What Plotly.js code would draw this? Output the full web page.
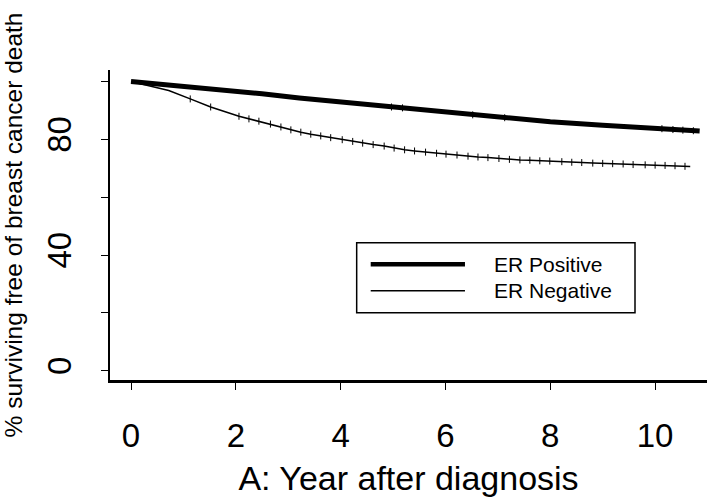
<!DOCTYPE html>
<html>
<head>
<meta charset="utf-8">
<script src="https://cdn.plot.ly/plotly-3.0.1.min.js"></script>
<style>html,body{margin:0;padding:0;background:#fff;}#chart{width:707px;height:500px;}</style>
</head>
<body>
<div id="chart"></div>
<script>
// ER Positive survival curve (years, % surviving)
const posX = [0, 0.5, 1, 1.5, 2, 2.5, 3.21, 4, 4.97, 5.18, 5.22, 6.52, 6.65, 7.13, 7.22, 8, 9, 10, 10.13, 10.34, 10.53, 10.73, 10.85];
const posY = [100, 99.2, 98.4, 97.5, 96.7, 95.8, 94.3, 92.9, 91.2, 90.9, 90.8, 88.5, 88.3, 87.5, 87.3, 86.1, 84.9, 83.8, 83.7, 83.4, 83.2, 83.0, 82.9];
// ER Positive censor marks
const posCensorX = [4.97, 5.18, 6.52, 7.13, 10.13, 10.34, 10.53, 10.73];
const posCensorY = [91.2, 90.9, 88.5, 87.5, 83.7, 83.4, 83.2, 83.0];

// ER Negative survival curve
const negX = [0, 0.33, 0.72, 1.13, 1.52, 2.06, 2.25, 2.44, 2.66, 2.86, 3.05, 3.24, 3.43, 3.62, 3.81, 4.03, 4.23, 4.42, 4.62, 4.83, 5.02, 5.22, 5.41, 5.62, 5.83, 6.01, 6.22, 6.43, 6.62, 6.81, 7.02, 7.22, 7.42, 7.61, 7.80, 7.99, 8.22, 8.41, 8.60, 8.81, 9.00, 9.19, 9.39, 9.58, 9.81, 10.0, 10.19, 10.38, 10.57, 10.67];
const negY = [100, 98.6, 96.9, 94.0, 91.2, 88.0, 87.1, 86.3, 85.3, 84.3, 83.3, 82.5, 81.8, 81.2, 80.6, 79.9, 79.3, 78.7, 78.2, 77.7, 77.0, 76.4, 76.0, 75.6, 75.2, 74.9, 74.6, 74.2, 73.9, 73.7, 73.4, 73.1, 72.9, 72.8, 72.6, 72.5, 72.3, 72.1, 72.0, 71.8, 71.7, 71.6, 71.5, 71.3, 71.2, 71.1, 71.0, 70.9, 70.7, 70.6];
// ER Negative censor marks: every curve point after the early events, except the curve end
const negCensorX = negX.slice(3, -1);
const negCensorY = negY.slice(3, -1);

const xTickVals = [0, 2, 4, 6, 8, 10];
const yTickVals = [0, 20, 40, 60, 80, 100];
const yTickText = ["0", "", "40", "", "80", ""];
const seriesNames = ["ER Positive", "ER Negative"];

const FONT = "Liberation Sans, Arial, sans-serif";
const censorMarker = {symbol: "line-ns", size: 5, color: "black", line: {width: 1, color: "black"}};

const traces = [
  {x: posX, y: posY, type: "scatter", mode: "lines", name: seriesNames[0],
   line: {color: "black", width: 5}, hoverinfo: "skip"},
  {x: posCensorX, y: posCensorY, type: "scatter", mode: "markers", name: seriesNames[0] + " censored",
   marker: censorMarker, showlegend: false, hoverinfo: "skip"},
  {x: negX, y: negY, type: "scatter", mode: "lines", name: seriesNames[1],
   line: {color: "black", width: 1.5}, hoverinfo: "skip"},
  {x: negCensorX, y: negCensorY, type: "scatter", mode: "markers", name: seriesNames[1] + " censored",
   marker: censorMarker, showlegend: false, hoverinfo: "skip"}
];

// manual legend in paper coordinates (box with long line samples, as in the original)
const lg = {x0: 0.4132, x1: 0.8794, y0: 0.2171, y1: 0.4429, lx0: 0.4367, lx1: 0.5946, tx: 0.6404, r1: 0.3732, r2: 0.2881};

const layout = {
  width: 707, height: 500,
  margin: {l: 110, r: 0, t: 70, b: 120, pad: 0},
  paper_bgcolor: "white", plot_bgcolor: "white",
  font: {family: FONT, color: "black"},
  showlegend: false,
  xaxis: {
    range: [-0.401, 10.99], showgrid: false, zeroline: false,
    showline: true, linecolor: "black", linewidth: 2.5,
    ticks: "outside", ticklen: 7, tickwidth: 1, tickcolor: "black",
    tickvals: xTickVals, ticktext: xTickVals.map(String),
    tickfont: {family: FONT, size: 33, color: "black"},
    ticklabelstandoff: 18,
    title: {text: "A: Year after diagnosis", font: {family: FONT, size: 34, color: "black"}, standoff: 13}
  },
  yaxis: {
    range: [-3.2, 104], showgrid: false, zeroline: false,
    showline: true, linecolor: "black", linewidth: 2.5,
    ticks: "outside", ticklen: 7, tickwidth: 1, tickcolor: "black",
    tickvals: yTickVals, ticktext: yTickText, tickangle: -90,
    tickfont: {family: FONT, size: 33, color: "black"},
    ticklabelstandoff: 16,
    title: {text: "% surviving free of breast cancer death", font: {family: FONT, size: 24.5, color: "black"}, standoff: 12}
  },
  shapes: [
    {type: "rect", xref: "paper", yref: "paper", x0: lg.x0, x1: lg.x1, y0: lg.y0, y1: lg.y1,
     line: {color: "black", width: 1.5}, fillcolor: "white", layer: "above"},
    {type: "line", xref: "paper", yref: "paper", x0: lg.lx0, x1: lg.lx1, y0: lg.r1, y1: lg.r1,
     line: {color: "black", width: 4.5}},
    {type: "line", xref: "paper", yref: "paper", x0: lg.lx0, x1: lg.lx1, y0: lg.r2, y1: lg.r2,
     line: {color: "black", width: 1.5}}
  ],
  annotations: [
    {xref: "paper", yref: "paper", x: lg.tx, y: lg.r1, xanchor: "left", yanchor: "middle", showarrow: false,
     text: seriesNames[0], font: {family: FONT, size: 21, color: "black"}},
    {xref: "paper", yref: "paper", x: lg.tx, y: lg.r2, xanchor: "left", yanchor: "middle", showarrow: false,
     text: seriesNames[1], font: {family: FONT, size: 21, color: "black"}}
  ]
};

Plotly.newPlot("chart", traces, layout, {displayModeBar: false, staticPlot: true});
</script>
</body>
</html>
